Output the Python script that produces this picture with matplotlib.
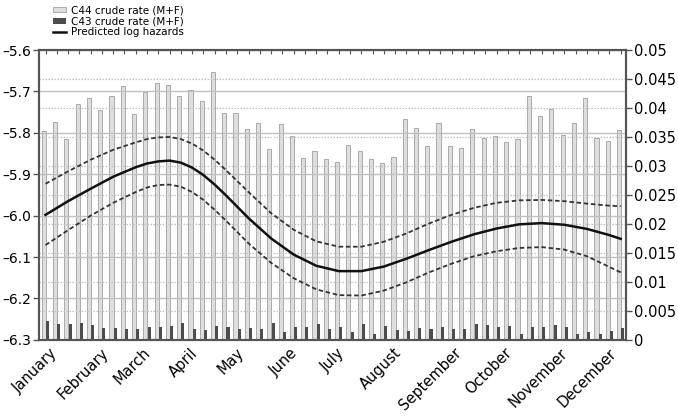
import numpy as np
import matplotlib
matplotlib.use("Agg")
import matplotlib.pyplot as plt
from matplotlib.patches import Patch
from matplotlib.lines import Line2D

# weekly crude rates (right axis)
c44_rate = [0.0361, 0.0375, 0.0347, 0.0407, 0.0418, 0.0397, 0.0421, 0.0438, 0.0389, 0.0428,
            0.0443, 0.0439, 0.0421, 0.0431, 0.0412, 0.0462, 0.0392, 0.0392, 0.0364, 0.0374,
            0.0329, 0.0372, 0.0351, 0.0314, 0.0326, 0.0312, 0.0307, 0.0337, 0.0325, 0.0312,
            0.0305, 0.0316, 0.0381, 0.0365, 0.0334, 0.0374, 0.0335, 0.0331, 0.0364, 0.0349,
            0.0352, 0.0341, 0.0346, 0.0421, 0.0387, 0.0399, 0.0353, 0.0374, 0.0418, 0.0348,
            0.0343, 0.0362]
c43_rate = [0.0032, 0.0027, 0.0028, 0.0029, 0.0025, 0.0021, 0.0020, 0.0018, 0.0018, 0.0022,
            0.0022, 0.0024, 0.0029, 0.0018, 0.0017, 0.0024, 0.0022, 0.0018, 0.0021, 0.0018,
            0.0029, 0.0013, 0.0022, 0.0022, 0.0027, 0.0019, 0.0022, 0.0013, 0.0028, 0.0010,
            0.0024, 0.0017, 0.0015, 0.0020, 0.0018, 0.0022, 0.0019, 0.0019, 0.0028, 0.0025,
            0.0022, 0.0024, 0.0010, 0.0022, 0.0023, 0.0025, 0.0023, 0.0010, 0.0014, 0.0010,
            0.0016, 0.0020]

# predicted log hazards with bounds (left axis)
curve_week = [0, 2, 4, 6, 8, 9, 10, 11, 12, 13, 14, 15, 16, 18, 20, 22, 24, 26, 28, 30,
              32, 34, 36, 38, 40, 42, 44, 46, 48, 50, 51]
log_hazard = [-5.998, -5.965, -5.935, -5.906, -5.883, -5.874, -5.869, -5.867, -5.872, -5.884,
              -5.902, -5.925, -5.951, -6.006, -6.055, -6.094, -6.121, -6.134, -6.134, -6.123,
              -6.104, -6.083, -6.063, -6.045, -6.031, -6.021, -6.018, -6.022, -6.032, -6.047,
              -6.056]
upper_ci = [-5.923, -5.893, -5.865, -5.841, -5.823, -5.815, -5.811, -5.810, -5.815, -5.826,
            -5.843, -5.865, -5.890, -5.943, -5.994, -6.034, -6.062, -6.075, -6.075, -6.063,
            -6.043, -6.019, -5.998, -5.981, -5.969, -5.963, -5.962, -5.965, -5.971, -5.976,
            -5.977]
lower_ci = [-6.071, -6.035, -6.000, -5.969, -5.943, -5.932, -5.926, -5.925, -5.930, -5.943,
            -5.962, -5.986, -6.012, -6.067, -6.114, -6.151, -6.178, -6.192, -6.193, -6.181,
            -6.161, -6.137, -6.116, -6.098, -6.086, -6.078, -6.076, -6.082, -6.098, -6.124,
            -6.137]

months = ["January", "February", "March", "April", "May", "June", "July",
          "August", "September", "October", "November", "December"]
month_week = [0.4, 4.9, 8.6, 12.8, 16.9, 21.7, 25.8, 30.9, 36.2, 40.7, 45.6, 49.9]

left_ticks = [-6.3, -6.2, -6.1, -6.0, -5.9, -5.8, -5.7, -5.6]
right_ticks = [0, 0.005, 0.01, 0.015, 0.02, 0.025, 0.03, 0.035, 0.04, 0.045, 0.05]

spine_col = "#555555"
grid_col = "#c0c0c0"

fig = plt.figure(figsize=(6.78, 4.17), dpi=100)
ax = fig.add_axes([0.058, 0.185, 0.865, 0.695])
ax2 = ax.twinx()
ax.set_zorder(ax2.get_zorder() + 1)
ax.patch.set_visible(False)

weeks = np.arange(len(c44_rate))
ax2.bar(weeks - 0.15, c44_rate, width=0.37, color="#dedede", edgecolor="#aaaaaa",
        linewidth=0.7, zorder=1)
ax2.bar(weeks + 0.18, c43_rate, width=0.27, color="#4d4d4d", linewidth=0, zorder=1)

ax.plot(curve_week, log_hazard, color="#111111", lw=1.8)
ax.plot(curve_week, upper_ci, color="#333333", lw=1.3, ls=(0, (2.5, 1.5)))
ax.plot(curve_week, lower_ci, color="#333333", lw=1.3, ls=(0, (2.5, 1.5)))

ax.set_xlim(-0.55, 51.45)
ax.set_ylim(-6.3, -5.6)
ax2.set_ylim(0, 0.05)

ax.set_yticks(left_ticks)
ax.set_yticklabels(["\u2013" + f"{abs(v):.1f}" for v in left_ticks], fontsize=10)
ax2.set_yticks(right_ticks)
ax2.set_yticklabels([f"{v:g}" for v in right_ticks], fontsize=10.5)

for v in left_ticks[1:-1]:
    ax.axhline(v, color=grid_col, lw=1.0, zorder=0.5)
ax2.yaxis.grid(True, color=grid_col, ls=(0, (1.2, 1.2)), lw=0.9)
ax2.set_axisbelow(False)

ax.set_xticks(month_week)
ax.set_xticklabels(months, rotation=45, ha="right", va="top", rotation_mode="anchor",
                   fontsize=10.5)
ax.tick_params(axis="x", length=0, pad=4)
ax.tick_params(axis="y", length=4, width=1, color=spine_col, direction="out", pad=2)
ax2.tick_params(axis="y", length=4, width=1, color=spine_col, direction="out", pad=2)

top = ax.secondary_xaxis("top")
top.set_xticks(weeks)
top.tick_params(direction="in", length=3, width=0.8, color=spine_col, labeltop=False)
top.spines["top"].set_color(spine_col)

for a in (ax, ax2):
    for s in a.spines.values():
        s.set_color(spine_col)
        s.set_linewidth(1.5)

handles = [Patch(facecolor="#dedede", edgecolor="#aaaaaa", lw=0.7),
           Patch(facecolor="#4d4d4d"),
           Line2D([], [], color="#111111", lw=1.8)]
fig.legend(handles, ["C44 crude rate (M+F)", "C43 crude rate (M+F)", "Predicted log hazards"],
           loc="upper left", bbox_to_anchor=(0.07, 1.0), frameon=False, fontsize=7.5,
           handlelength=1.3, handleheight=0.5, labelspacing=0.1, borderaxespad=0.1,
           handletextpad=0.5)

fig.savefig("out.png", dpi=100)
